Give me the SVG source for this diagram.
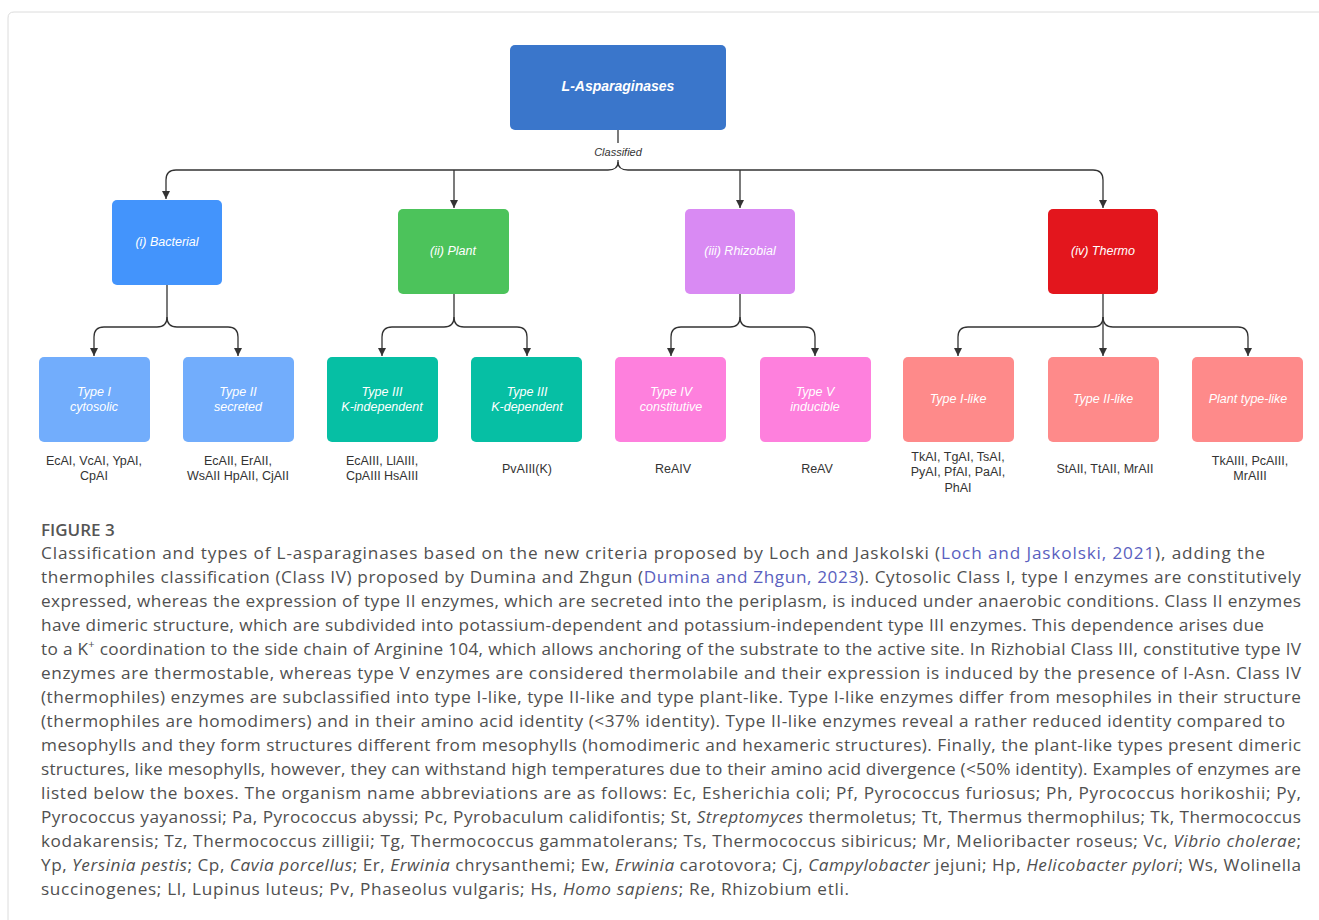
<svg xmlns="http://www.w3.org/2000/svg" width="1319" height="920" viewBox="0 0 1319 920">
<defs>
<marker id="arr" viewBox="0 0 10 10" refX="10" refY="5" markerWidth="8" markerHeight="8" markerUnits="userSpaceOnUse" orient="auto">
<path d="M0,0 L10,5 L0,10 Z" fill="#333"/>
</marker>
<style>
.box{stroke:none}
.lbl{font-family:"Liberation Sans",Arial,sans-serif;font-style:italic;font-size:12.5px;fill:#fff;text-anchor:middle}
.ex{font-family:"Liberation Sans",Arial,sans-serif;font-size:12.5px;fill:#333;text-anchor:middle}
.con{fill:none;stroke:#333;stroke-width:1.3}
.cap{font-family:"Open Sans","Liberation Sans",sans-serif;font-size:17.2px;fill:#505050}
.lnk{fill:#5a5fc0}
</style>
</defs>
<rect width="1319" height="920" fill="#fff"/>
<path d="M8,920 V18 Q8,12 14,12 H1319" fill="none" stroke="#dcdcdc" stroke-width="1"/>

<g id="connectors">
<path class="con" d="M618,130 V143"/>
<path class="con" d="M618,160 V162"/>
<path class="con" d="M618,162 Q618,170 608,170 H176 Q166,170 166,180 V199" marker-end="url(#arr)"/>
<path class="con" d="M618,162 Q618,170 628,170 H1093 Q1103,170 1103,180 V208" marker-end="url(#arr)"/>
<path class="con" d="M454,170 V208" marker-end="url(#arr)"/>
<path class="con" d="M740,170 V208" marker-end="url(#arr)"/>
<path class="con" d="M167,285 V317 Q167,327 157,327 H104 Q94,327 94,337 V356" marker-end="url(#arr)"/>
<path class="con" d="M167,317 Q167,327 177,327 H228 Q238,327 238,337 V356" marker-end="url(#arr)"/>
<path class="con" d="M454,294 V317 Q454,327 444,327 H392 Q382,327 382,337 V356" marker-end="url(#arr)"/>
<path class="con" d="M454,317 Q454,327 464,327 H517 Q527,327 527,337 V356" marker-end="url(#arr)"/>
<path class="con" d="M740,294 V317 Q740,327 730,327 H681 Q671,327 671,337 V356" marker-end="url(#arr)"/>
<path class="con" d="M740,317 Q740,327 750,327 H805 Q815,327 815,337 V356" marker-end="url(#arr)"/>
<path class="con" d="M1103,294 V356" marker-end="url(#arr)"/>
<path class="con" d="M1103,317 Q1103,327 1093,327 H968 Q958,327 958,337 V356" marker-end="url(#arr)"/>
<path class="con" d="M1103,317 Q1103,327 1113,327 H1238 Q1248,327 1248,337 V356" marker-end="url(#arr)"/>
<text x="618" y="156" font-family="Liberation Sans,Arial,sans-serif" font-style="italic" font-size="11" fill="#333" text-anchor="middle">Classified</text>
</g>

<g id="root">
<rect class="box" x="510" y="45" width="216" height="85" rx="5" fill="#3a76cb"/>
<text x="618" y="91" font-family="Liberation Sans,Arial,sans-serif" font-style="italic" font-weight="bold" font-size="14" fill="#fff" text-anchor="middle">L-Asparaginases</text>
</g>

<g id="bacterial">
<rect class="box" x="112" y="200" width="110" height="85" rx="5" fill="#4394fc"/>
<text class="lbl" x="167" y="246">(i) Bacterial</text>
</g>
<g id="plant">
<rect class="box" x="398" y="209" width="111" height="85" rx="5" fill="#4cc35b"/>
<text class="lbl" x="453" y="255">(ii) Plant</text>
</g>
<g id="rhizobial">
<rect class="box" x="685" y="209" width="110" height="85" rx="5" fill="#d98af3"/>
<text class="lbl" x="740" y="255">(iii) Rhizobial</text>
</g>
<g id="thermo">
<rect class="box" x="1048" y="209" width="110" height="85" rx="5" fill="#e3161d"/>
<text class="lbl" x="1103" y="255">(iv) Thermo</text>
</g>

<g id="type1">
<rect class="box" x="39" y="357" width="111" height="85" rx="5" fill="#72adfc"/>
<text class="lbl" x="94" y="396">Type I</text>
<text class="lbl" x="94" y="411">cytosolic</text>
<text class="ex" x="94" y="465">EcAI, VcAI, YpAI,</text>
<text class="ex" x="94" y="480">CpAI</text>
</g>
<g id="type2">
<rect class="box" x="183" y="357" width="111" height="85" rx="5" fill="#72adfc"/>
<text class="lbl" x="238" y="396">Type II</text>
<text class="lbl" x="238" y="411">secreted</text>
<text class="ex" x="238" y="465">EcAII, ErAII,</text>
<text class="ex" x="238" y="480">WsAII HpAII, CjAII</text>
</g>
<g id="type3ki">
<rect class="box" x="327" y="357" width="111" height="85" rx="5" fill="#06bfa4"/>
<text class="lbl" x="382" y="396">Type III</text>
<text class="lbl" x="382" y="411">K-independent</text>
<text class="ex" x="382" y="465">EcAIII, LlAIII,</text>
<text class="ex" x="382" y="480">CpAIII HsAIII</text>
</g>
<g id="type3kd">
<rect class="box" x="471" y="357" width="111" height="85" rx="5" fill="#06bfa4"/>
<text class="lbl" x="527" y="396">Type III</text>
<text class="lbl" x="527" y="411">K-dependent</text>
<text class="ex" x="527" y="473">PvAIII(K)</text>
</g>
<g id="type4">
<rect class="box" x="615" y="357" width="111" height="85" rx="5" fill="#fe80dd"/>
<text class="lbl" x="671" y="396">Type IV</text>
<text class="lbl" x="671" y="411">constitutive</text>
<text class="ex" x="673" y="473">ReAIV</text>
</g>
<g id="type5">
<rect class="box" x="760" y="357" width="111" height="85" rx="5" fill="#fe80dd"/>
<text class="lbl" x="815" y="396">Type V</text>
<text class="lbl" x="815" y="411">inducible</text>
<text class="ex" x="817" y="473">ReAV</text>
</g>
<g id="type1like">
<rect class="box" x="903" y="357" width="111" height="85" rx="5" fill="#fe8a8a"/>
<text class="lbl" x="958" y="403">Type I-like</text>
<text class="ex" x="958" y="461">TkAI, TgAI, TsAI,</text>
<text class="ex" x="958" y="476">PyAI, PfAI, PaAI,</text>
<text class="ex" x="958" y="492">PhAI</text>
</g>
<g id="type2like">
<rect class="box" x="1048" y="357" width="111" height="85" rx="5" fill="#fe8a8a"/>
<text class="lbl" x="1103" y="403">Type II-like</text>
<text class="ex" x="1105" y="473">StAII, TtAII, MrAII</text>
</g>
<g id="plantlike">
<rect class="box" x="1192" y="357" width="111" height="85" rx="5" fill="#fe8a8a"/>
<text class="lbl" x="1248" y="403">Plant type-like</text>
<text class="ex" x="1250" y="465">TkAIII, PcAIII,</text>
<text class="ex" x="1250" y="480">MrAIII</text>
</g>

<g id="caption">
<text x="41" y="536" font-family="Open Sans,Liberation Sans,sans-serif" font-weight="600" font-size="17" fill="#555">FIGURE 3</text>
<text class="cap" x="41" y="559" textLength="1224" lengthAdjust="spacing">Classification and types of L-asparaginases based on the new criteria proposed by Loch and Jaskolski (<tspan class="lnk">Loch and Jaskolski, 2021</tspan>), adding the</text>
<text class="cap" x="41" y="583" textLength="1260" lengthAdjust="spacing">thermophiles classification (Class IV) proposed by Dumina and Zhgun (<tspan class="lnk">Dumina and Zhgun, 2023</tspan>). Cytosolic Class I, type I enzymes are constitutively</text>
<text class="cap" x="41" y="607" textLength="1260" lengthAdjust="spacing">expressed, whereas the expression of type II enzymes, which are secreted into the periplasm, is induced under anaerobic conditions. Class II enzymes</text>
<text class="cap" x="41" y="631" textLength="1223" lengthAdjust="spacing">have dimeric structure, which are subdivided into potassium-dependent and potassium-independent type III enzymes. This dependence arises due</text>
<text class="cap" x="41" y="655" textLength="1260" lengthAdjust="spacing">to a K<tspan font-size="11" dy="-7">+</tspan><tspan dy="7"> coordination to the side chain of Arginine 104, which allows anchoring of the substrate to the active site. In Rizhobial Class III, constitutive type IV</tspan></text>
<text class="cap" x="41" y="679" textLength="1260" lengthAdjust="spacing">enzymes are thermostable, whereas type V enzymes are considered thermolabile and their expression is induced by the presence of l-Asn. Class IV</text>
<text class="cap" x="41" y="703" textLength="1260" lengthAdjust="spacing">(thermophiles) enzymes are subclassified into type I-like, type II-like and type plant-like. Type I-like enzymes differ from mesophiles in their structure</text>
<text class="cap" x="41" y="727" textLength="1244" lengthAdjust="spacing">(thermophiles are homodimers) and in their amino acid identity (&lt;37% identity). Type II-like enzymes reveal a rather reduced identity compared to</text>
<text class="cap" x="41" y="751" textLength="1260" lengthAdjust="spacing">mesophylls and they form structures different from mesophylls (homodimeric and hexameric structures). Finally, the plant-like types present dimeric</text>
<text class="cap" x="41" y="775" textLength="1260" lengthAdjust="spacing">structures, like mesophylls, however, they can withstand high temperatures due to their amino acid divergence (&lt;50% identity). Examples of enzymes are</text>
<text class="cap" x="41" y="799" textLength="1260" lengthAdjust="spacing">listed below the boxes. The organism name abbreviations are as follows: Ec, Esherichia coli; Pf, Pyrococcus furiosus; Ph, Pyrococcus horikoshii; Py,</text>
<text class="cap" x="41" y="823" textLength="1260" lengthAdjust="spacing">Pyrococcus yayanossi; Pa, Pyrococcus abyssi; Pc, Pyrobaculum calidifontis; St, <tspan font-style="italic">Streptomyces</tspan> thermoletus; Tt, Thermus thermophilus; Tk, Thermococcus</text>
<text class="cap" x="41" y="847" textLength="1260" lengthAdjust="spacing">kodakarensis; Tz, Thermococcus zilligii; Tg, Thermococcus gammatolerans; Ts, Thermococcus sibiricus; Mr, Melioribacter roseus; Vc, <tspan font-style="italic">Vibrio cholerae</tspan>;</text>
<text class="cap" x="41" y="871" textLength="1260" lengthAdjust="spacing">Yp, <tspan font-style="italic">Yersinia pestis</tspan>; Cp, <tspan font-style="italic">Cavia porcellus</tspan>; Er, <tspan font-style="italic">Erwinia</tspan> chrysanthemi; Ew, <tspan font-style="italic">Erwinia</tspan> carotovora; Cj, <tspan font-style="italic">Campylobacter</tspan> jejuni; Hp, <tspan font-style="italic">Helicobacter pylori</tspan>; Ws, Wolinella</text>
<text class="cap" x="41" y="895" textLength="808" lengthAdjust="spacing">succinogenes; Ll, Lupinus luteus; Pv, Phaseolus vulgaris; Hs, <tspan font-style="italic">Homo sapiens</tspan>; Re, Rhizobium etli.</text>
</g>
</svg>
